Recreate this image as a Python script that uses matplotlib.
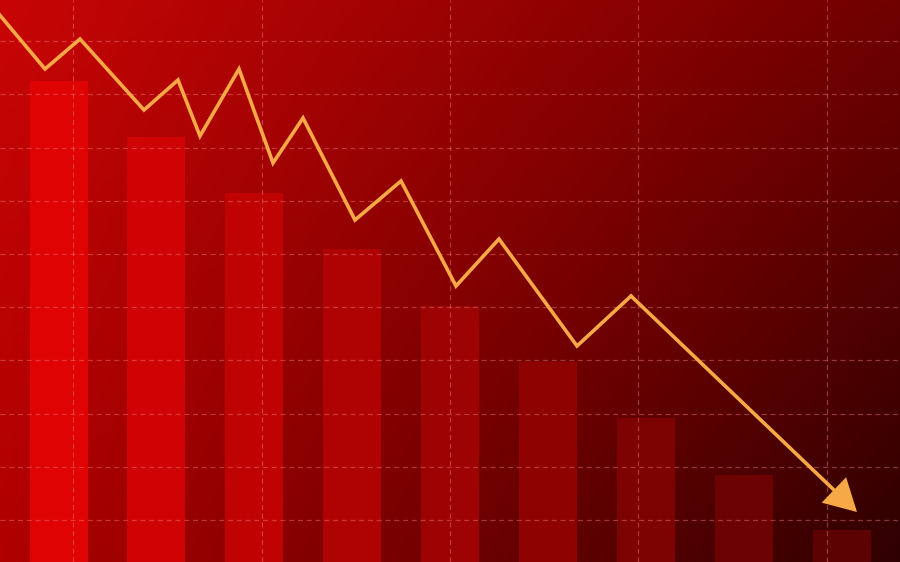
import numpy as np
import matplotlib
matplotlib.use("Agg")
import matplotlib.pyplot as plt
from matplotlib.colors import to_rgb

# ---- data (value axis: 0 at bottom, 562 at top; x in 0..900) ----
bar_x = [58.5, 156, 254, 352, 450, 548, 645.5, 743.5, 842]
bar_values = [481, 425, 369, 313, 256, 200, 144, 87, 32]

line_x = [-2, 45, 80, 144, 178, 200, 239, 273, 303, 355, 401, 456, 499, 577, 631]
line_values = [549, 493, 523, 452, 482, 426, 493, 399, 444, 342, 381, 276, 323, 216, 266]
arrow_tip_x = 857
arrow_tip_value = 50

grid_x = [73, 262, 450, 638, 827]
grid_y = [42, 95.2, 148.4, 201.6, 254.8, 308, 361.2, 414.4, 467.6, 520.8]

W, H = 900, 562

fig = plt.figure(figsize=(9, 5.62), dpi=100)
ax = fig.add_axes([0, 0, 1, 1])
ax.set_xlim(0, W)
ax.set_ylim(0, H)

# background gradient (bilinear between corner colours)
tl = np.array(to_rgb('#c80505'))
tr = np.array(to_rgb('#700000'))
bl = np.array(to_rgb('#b00000'))
br = np.array(to_rgb('#2e0000'))
u = np.linspace(0, 1, 300)[None, :, None]
v = np.linspace(0, 1, 200)[:, None, None]  # 0 = top
top = tl * (1 - u) + tr * u
bot = bl * (1 - u) + br * u
img = top * (1 - v) + bot * v
ax.imshow(img, extent=[0, W, 0, H], origin='upper', aspect='auto', zorder=0, interpolation='bilinear')

# bars
c0 = np.array(to_rgb('#e00303'))
c1 = np.array(to_rgb('#5c0202'))
n = len(bar_x)
bar_colors = [tuple(c0 * (1 - t) + c1 * t) for t in np.linspace(0, 1, n)]
ax.bar(bar_x, bar_values, width=58, color=bar_colors, zorder=1, linewidth=0)

# grid
ax.set_xticks(grid_x)
ax.set_yticks(grid_y)
ax.grid(True, color='#f07a7a', alpha=0.45, linestyle=(0, (4, 3)), linewidth=0.9, zorder=2)
ax.tick_params(length=0, labelbottom=False, labelleft=False)
for s in ax.spines.values():
    s.set_visible(False)
ax.set_axisbelow(False)

# line
lc = '#f6a945'
ax.plot(line_x, line_values, color=lc, linewidth=2.6, solid_joinstyle='miter', zorder=4)
ax.annotate('', xy=(arrow_tip_x, arrow_tip_value), xytext=(line_x[-1], line_values[-1]),
            arrowprops=dict(arrowstyle='-|>,head_length=1.9,head_width=1.05', mutation_scale=10,
                            color=lc, lw=2.6, shrinkA=0, shrinkB=0, joinstyle='miter'),
            zorder=5)

fig.savefig('out.png', dpi=100)
